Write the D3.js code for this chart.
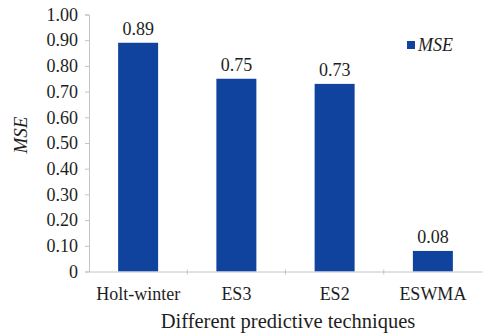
<!DOCTYPE html>
<html><head><meta charset="utf-8">
<script src="https://cdn.jsdelivr.net/npm/d3@7"></script>
<style>body{margin:0;background:#fff}svg{display:block}</style>
</head><body>
<script>
const categories = ["Holt-winter", "ES3", "ES2", "ESWMA"];
const mse = [0.89, 0.75, 0.73, 0.08];
const yTicks = [0, 0.1, 0.2, 0.3, 0.4, 0.5, 0.6, 0.7, 0.8, 0.9, 1.0];
const yTickLabels = ["0", "0.10", "0.20", "0.30", "0.40", "0.50", "0.60", "0.70", "0.80", "0.90", "1.00"];

const W = 493, H = 334;
const m = {l: 89, r: 11, t: 14.5, b: 62.5};
const FONT = '"Liberation Serif"';
const TXT = "#1e1e1e", AX = "#c4c4c4", BAR = "#10439d";
const svg = d3.select("body").append("svg").attr("width", W).attr("height", H);

const x = d3.scaleBand().domain(categories).range([m.l, W - m.r]).paddingInner(0.593).paddingOuter(0.2965);
const y = d3.scaleLinear().domain([0, 1]).range([H - m.b, m.t]);
const xAxis = d3.scaleBand().domain(categories).range([m.l, W - m.r]);

svg.selectAll("rect.bar").data(mse).enter().append("rect")
  .attr("x", (d, i) => x(categories[i]))
  .attr("width", x.bandwidth())
  .attr("y", d => y(d))
  .attr("height", d => y(0) - y(d))
  .attr("fill", BAR);

svg.selectAll("text.val").data(mse).enter().append("text")
  .attr("x", (d, i) => x(categories[i]) + x.bandwidth() / 2)
  .attr("y", d => y(d) - 8)
  .attr("text-anchor", "middle")
  .attr("font-size", 18).attr("fill", TXT)
  .style("font-family", FONT)
  .text(d => d.toFixed(2));

const gy = svg.append("g").attr("transform", `translate(${m.l},0)`)
  .call(d3.axisLeft(y).tickValues(yTicks).tickFormat((d, i) => yTickLabels[i]).tickSize(4).tickPadding(7));
gy.select(".domain").attr("stroke", AX);
gy.selectAll(".tick line").attr("stroke", AX);
gy.selectAll("text").attr("font-size", 18).attr("fill", TXT).style("font-family", FONT);

const gx = svg.append("g").attr("transform", `translate(0,${y(0)})`)
  .call(d3.axisBottom(xAxis).tickSize(0).tickPadding(16));
gx.select(".domain").attr("stroke", AX);
gx.selectAll("text").attr("font-size", 18).attr("fill", TXT).style("font-family", FONT);
svg.selectAll("line.sep").data(categories.slice(1)).enter().append("line")
  .attr("x1", d => xAxis(d)).attr("x2", d => xAxis(d))
  .attr("y1", y(0) - 2).attr("y2", y(0) + 3)
  .attr("stroke", AX);

svg.append("text").attr("x", 288).attr("y", 328)
  .attr("text-anchor", "middle").attr("font-size", 20.5).attr("fill", TXT)
  .style("font-family", FONT)
  .text("Different predictive techniques");
svg.append("text").attr("transform", `translate(27,135) rotate(-90)`)
  .attr("text-anchor", "middle").attr("font-size", 19)
  .style("font-family", FONT)
  .attr("font-style", "italic").attr("fill", TXT).text("MSE");

svg.append("rect").attr("x", 407).attr("y", 41).attr("width", 8).attr("height", 8).attr("fill", BAR);
svg.append("text").attr("x", 418).attr("y", 50.5).attr("font-size", 18)
  .style("font-family", FONT)
  .attr("font-style", "italic").attr("fill", TXT).text("MSE");
</script>
</body></html>
